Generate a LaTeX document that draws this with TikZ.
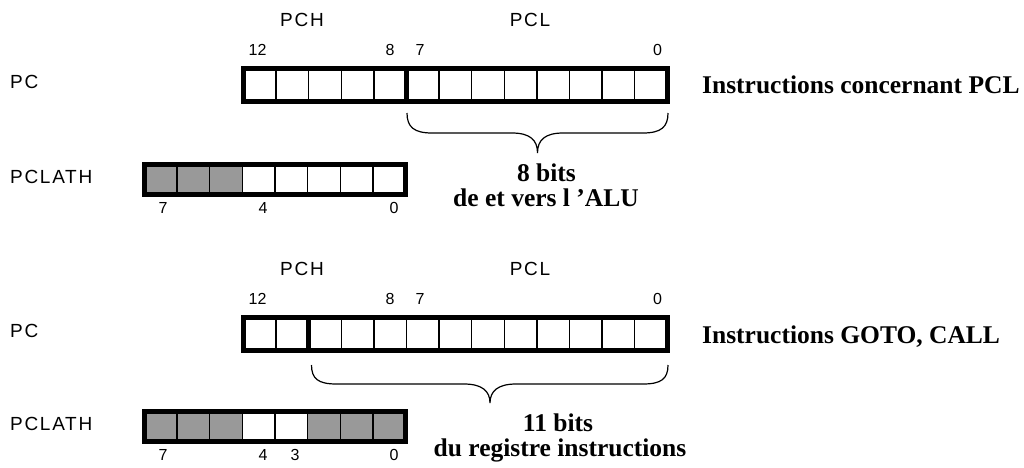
\documentclass[tikz,border=0pt]{standalone}
\usepackage{fontspec}
\setmainfont{Liberation Serif}
\newfontfamily\labelfont{Liberation Sans}[LetterSpace=9]
\newfontfamily\numfont{Liberation Sans}
\definecolor{cellgray}{RGB}{153,153,153}

\tikzset{
  lbl/.style={font=\labelfont\fontsize{19}{21}\selectfont, inner sep=0pt},
  bitno/.style={font=\numfont\fontsize{16}{18}\selectfont, inner sep=0pt},
  note/.style={font=\bfseries\fontsize{25.5}{29}\selectfont, inner sep=0pt},
  frame/.style={line width=5pt},
  cellsep/.style={line width=1.5pt},
  bracepath/.style={line width=1.2pt},
  graycell/.style={fill=cellgray, draw=none},
}

\begin{document}
\begin{tikzpicture}[x=1pt, y=-1pt]
\useasboundingbox (0,0) rectangle (1024,467);

% ---------- upper half: PC with PCL reachable from the ALU ----------
\node[lbl] (pch1) at (302,20) {PCH};
\node[lbl] (pcl1) at (530,20) {PCL};
\node[bitno] (n12a) at (257.5,50) {12};
\node[bitno] (n8a) at (390,50) {8};
\node[bitno] (n7a) at (420,50) {7};
\node[bitno] (n0a) at (657.5,50) {0};

\node[lbl, anchor=west] (pc1) at (10,82) {PC};
% 13-bit program counter
\foreach \i in {1,...,12}
  \draw[cellsep] (243.5+\i*32.6,68.5) -- ++(0,33);
\draw[frame] (243.5+5*32.6,68.5) -- ++(0,33);
\draw[frame] (243.5,68.5) rectangle (667.5,101.5);

\node[note, anchor=base west] (txt1) at (702,93.5) {Instructions concernant PCL};

% brace under the low byte
\coordinate (b1l) at (407,113);
\coordinate (b1m) at (537.5,153);
\coordinate (b1r) at (668,113);
\draw[bracepath] (b1l) .. controls (407,127) and (414,133) .. (432,133)
  -- (512,133) .. controls (530,133) and (537.5,140) .. (b1m)
  .. controls (537.5,140) and (545,133) .. (563,133)
  -- (643,133) .. controls (661,133) and (668,127) .. (b1r);
\node[note, anchor=base] (bits1) at (546.5,181) {8 bits};
\node[note, anchor=base] (alu) at (546,206) {de et vers l ’ALU};

% PCLATH, bits 7..5 unused
\node[lbl, anchor=west] (pclath1) at (10,176.5) {PCLATH};
\foreach \i in {0,1,2}
  \fill[graycell] (144.2+\i*32.7,164.2) rectangle ++(32.7,30);
\foreach \i in {1,...,7}
  \draw[cellsep] (144.2+\i*32.7,164.2) -- ++(0,30);
\draw[frame] (144.2,164.2) rectangle (405.8,194.2);
\node[bitno] (p7a) at (163,208) {7};
\node[bitno] (p4a) at (263,208) {4};
\node[bitno] (p0a) at (394,208) {0};

% ---------- lower half: PC loaded by GOTO / CALL ----------
\node[lbl] (pch2) at (302,269) {PCH};
\node[lbl] (pcl2) at (530,269) {PCL};
\node[bitno] (n12b) at (257.5,299) {12};
\node[bitno] (n8b) at (390,299) {8};
\node[bitno] (n7b) at (420,299) {7};
\node[bitno] (n0b) at (657.5,299) {0};

\node[lbl, anchor=west] (pc2) at (10,331) {PC};
\foreach \i in {1,...,12}
  \draw[cellsep] (243.5+\i*32.6,317.5) -- ++(0,33);
\draw[frame] (243.5+2*32.6,317.5) -- ++(0,33);
\draw[frame] (243.5,317.5) rectangle (667.5,350.5);

\node[note, anchor=base west] (txt2) at (702,343.5) {Instructions GOTO, CALL};

% brace under the 11 low bits
\coordinate (b2l) at (311.5,365);
\coordinate (b2m) at (490,403);
\coordinate (b2r) at (668,365);
\draw[bracepath] (b2l) .. controls (311.5,379) and (318.5,384) .. (336.5,384)
  -- (464,384) .. controls (482,384) and (490,391) .. (b2m)
  .. controls (490,391) and (498,384) .. (516,384)
  -- (643,384) .. controls (661,384) and (668,379) .. (b2r);
\node[note, anchor=base] (bits2) at (558,431) {11 bits};
\node[note, anchor=base] (instr) at (560,456) {du registre instructions};

% PCLATH, bits 7..5 and 2..0 unused
\node[lbl, anchor=west] (pclath2) at (10,424) {PCLATH};
\foreach \i in {0,1,2,5,6,7}
  \fill[graycell] (144.2+\i*32.7,411.5) rectangle ++(32.7,30);
\foreach \i in {1,...,7}
  \draw[cellsep] (144.2+\i*32.7,411.5) -- ++(0,30);
\draw[frame] (144.2,411.5) rectangle (405.8,441.5);
\node[bitno] (p7b) at (163,455) {7};
\node[bitno] (p4b) at (263,455) {4};
\node[bitno] (p3b) at (295,455) {3};
\node[bitno] (p0b) at (394,455) {0};
\end{tikzpicture}
\end{document}
